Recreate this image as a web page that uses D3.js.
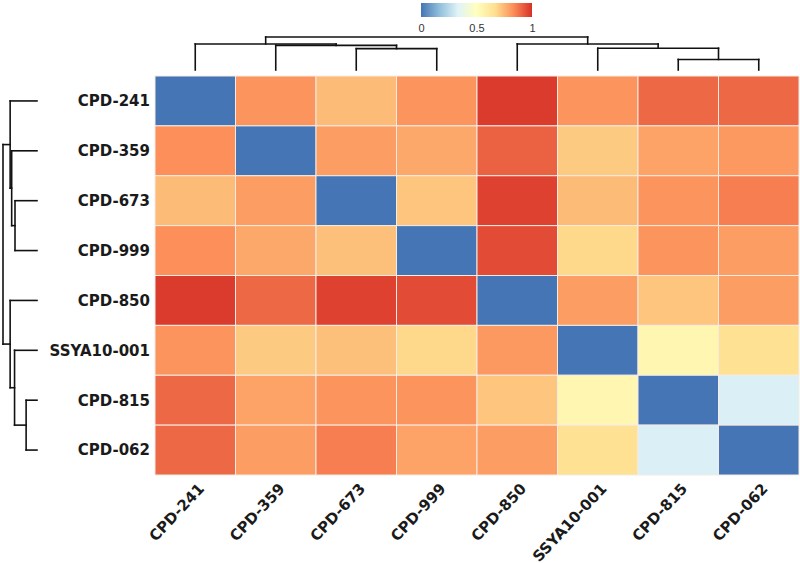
<!DOCTYPE html>
<html>
<head>
<meta charset="utf-8">
<script src="https://cdn.jsdelivr.net/npm/d3@7.9.0/dist/d3.min.js"></script>
<style>
  body { margin: 0; background: #fff; }
  svg { display: block; font-family: "DejaVu Sans", sans-serif; }
</style>
</head>
<body>
<svg id="chart" width="800" height="563"></svg>
<script>
const labels = ['CPD-241', 'CPD-359', 'CPD-673', 'CPD-999', 'CPD-850', 'SSYA10-001', 'CPD-815', 'CPD-062'];

// similarity values, row by row
const rowCPD241 = [0, 0.82, 0.74, 0.82, 0.98, 0.82, 0.9, 0.9];
const rowCPD359 = [0.83, 0, 0.8, 0.78, 0.91, 0.71, 0.79, 0.81];
const rowCPD673 = [0.74, 0.8, 0, 0.72, 0.97, 0.74, 0.82, 0.86];
const rowCPD999 = [0.83, 0.78, 0.73, 0, 0.95, 0.68, 0.82, 0.8];
const rowCPD850 = [0.98, 0.9, 0.97, 0.95, 0, 0.8, 0.72, 0.8];
const rowSSYA = [0.82, 0.71, 0.73, 0.68, 0.81, 0, 0.55, 0.66];
const rowCPD815 = [0.9, 0.79, 0.82, 0.82, 0.72, 0.55, 0, 0.32];
const rowCPD062 = [0.9, 0.8, 0.86, 0.79, 0.8, 0.66, 0.32, 0];
const matrix = [rowCPD241, rowCPD359, rowCPD673, rowCPD999, rowCPD850, rowSSYA, rowCPD815, rowCPD062];

// clustering: [left, right, height], entries 'm0'.. refer to earlier merges
const merges = [
  ['CPD-673', 'CPD-999', 0.647],
  ['CPD-359', 'm0', 0.745],
  ['CPD-241', 'm1', 0.79],
  ['CPD-815', 'CPD-062', 0.32],
  ['SSYA10-001', 'm3', 0.66],
  ['CPD-850', 'm4', 0.79],
  ['m2', 'm5', 1]
];

const legendTicks = [0, 0.5, 1];
const paletteStops = ['#4575b4', '#91bfdb', '#e0f3f8', '#ffffbf', '#fee090', '#fc8d59', '#d73027'];

const svg = d3.select('#chart');

const x = d3.scaleBand().domain(labels).range([155, 799]);
const y = d3.scaleBand().domain(labels).range([76, 475]);
const color = d3.scaleLinear()
  .domain(d3.range(paletteStops.length).map((i) => i / (paletteStops.length - 1)))
  .range(paletteStops);

// cells
const cells = [];
matrix.forEach((row, i) => {
  row.forEach((v, j) => cells.push({ r: labels[i], c: labels[j], v }));
});

svg.append('g')
  .selectAll('rect')
  .data(cells)
  .join('rect')
  .attr('x', (d) => x(d.c))
  .attr('y', (d) => y(d.r))
  .attr('width', x.bandwidth())
  .attr('height', y.bandwidth())
  .attr('fill', (d) => color(d.v))
  .attr('stroke', '#f3ebe4')
  .attr('stroke-width', 1);

// row labels
svg.append('g')
  .selectAll('text')
  .data(labels)
  .join('text')
  .attr('x', 150)
  .attr('y', (d) => y(d) + y.bandwidth() / 2)
  .attr('dy', '0.36em')
  .attr('text-anchor', 'end')
  .attr('font-size', 15)
  .attr('font-weight', 'bold')
  .attr('fill', '#1a1a1a')
  .text((d) => d);

// column labels
svg.append('g')
  .selectAll('text')
  .data(labels)
  .join('text')
  .attr('transform', (d) => `translate(${x(d) + x.bandwidth() / 2 + 2},482) rotate(-47)`)
  .attr('dy', '0.72em')
  .attr('text-anchor', 'end')
  .attr('font-size', 15)
  .attr('font-weight', 'bold')
  .attr('fill', '#1a1a1a')
  .text((d) => d);

// dendrograms
function buildTree() {
  const nodes = {};
  labels.forEach((l) => (nodes[l] = { name: l, height: 0 }));
  merges.forEach(([a, b, h], i) => {
    nodes['m' + i] = { name: 'm' + i, height: h, children: [nodes[a], nodes[b]] };
  });
  return nodes['m' + (merges.length - 1)];
}

function position(node, pos) {
  if (!node.children) {
    node.p = pos(node.name);
  } else {
    node.children.forEach((c) => position(c, pos));
    node.p = (node.children[0].p + node.children[1].p) / 2;
  }
}

function drawTree(g, root, hScale, vertical) {
  const segs = [];
  (function walk(n) {
    if (!n.children) return;
    const [a, b] = n.children;
    segs.push([a.p, hScale(a.height), a.p, hScale(n.height)]);
    segs.push([b.p, hScale(b.height), b.p, hScale(n.height)]);
    segs.push([a.p, hScale(n.height), b.p, hScale(n.height)]);
    n.children.forEach(walk);
  })(root);
  g.selectAll('line')
    .data(segs)
    .join('line')
    .attr(vertical ? 'x1' : 'y1', (d) => d[0])
    .attr(vertical ? 'y1' : 'x1', (d) => d[1])
    .attr(vertical ? 'x2' : 'y2', (d) => d[2])
    .attr(vertical ? 'y2' : 'x2', (d) => d[3])
    .attr('stroke', '#111')
    .attr('stroke-width', 1.6)
    .attr('stroke-linecap', 'square');
}

const topTree = buildTree();
position(topTree, (l) => x(l) + x.bandwidth() / 2);
drawTree(svg.append('g'), topTree, d3.scaleLinear().domain([0, 1]).range([70, 37]), true);

const leftTree = buildTree();
position(leftTree, (l) => y(l) + y.bandwidth() / 2);
drawTree(svg.append('g'), leftTree, d3.scaleLinear().domain([0, 1]).range([37, 3]), false);

// legend
const defs = svg.append('defs');
const grad = defs.append('linearGradient').attr('id', 'lg');
paletteStops.forEach((c, i) => {
  grad.append('stop')
    .attr('offset', `${(i / (paletteStops.length - 1)) * 100}%`)
    .attr('stop-color', c);
});

const lx = d3.scaleLinear().domain([0, 1]).range([421, 532]);
svg.append('rect')
  .attr('x', lx(0))
  .attr('y', 3)
  .attr('width', lx(1) - lx(0))
  .attr('height', 14)
  .attr('fill', 'url(#lg)');

const legendAxis = svg.append('g')
  .attr('transform', 'translate(0,21)')
  .call(d3.axisBottom(lx).tickValues(legendTicks).tickSize(0).tickFormat(d3.format('')));
legendAxis.select('.domain').remove();
legendAxis.selectAll('text')
  .attr('font-size', 11)
  .attr('font-family', 'Liberation Sans, sans-serif')
  .attr('fill', '#333');
</script>
</body>
</html>
